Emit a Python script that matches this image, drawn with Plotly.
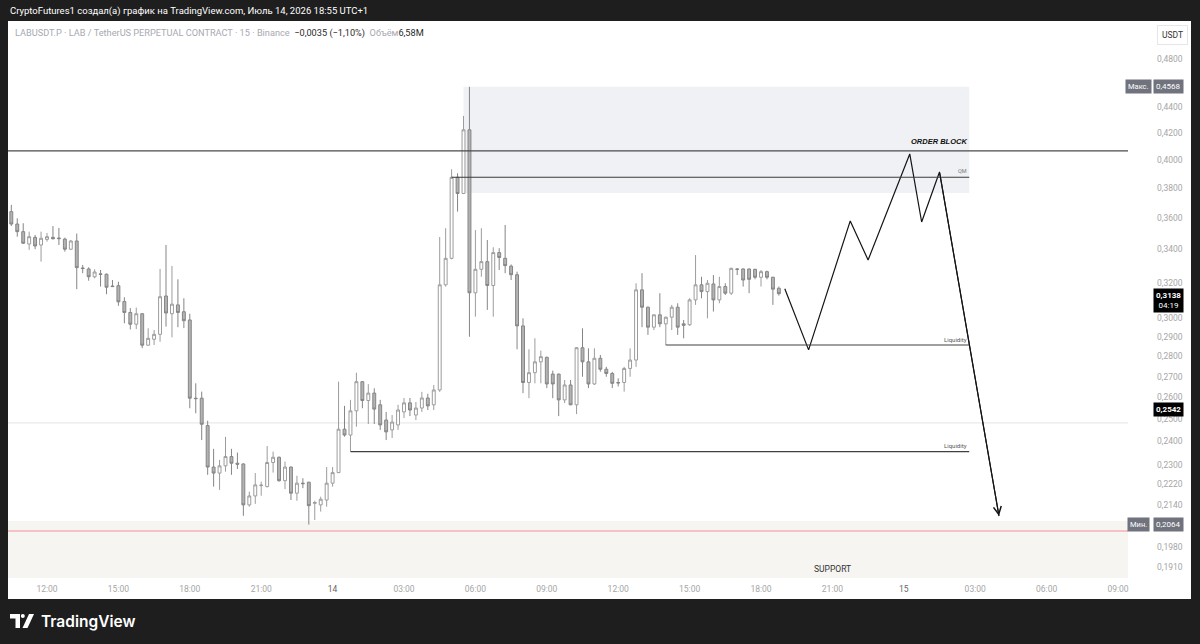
import math
import pandas as pd
import plotly.graph_objects as go

# ---------------- data ----------------
start_time = "2026-07-13 10:30"   # first 15-minute candle

opens = [0.3642, 0.3561, 0.3512, 0.3434, 0.3476, 0.3428, 0.3463, 0.3476, 0.3472, 0.3465,
         0.3402, 0.3453, 0.3288, 0.3282, 0.3236, 0.3253, 0.3251, 0.3182, 0.3184, 0.3094,
         0.3033, 0.2969, 0.3026, 0.2858, 0.2889, 0.2915, 0.3125, 0.3026, 0.3075, 0.3037,
         0.2992, 0.2596, 0.2596, 0.2470, 0.2291, 0.2266, 0.2296, 0.2335, 0.2307, 0.2304,
         0.2139, 0.2174, 0.2215, 0.2211, 0.2310, 0.2332, 0.2235, 0.2291, 0.2185, 0.2225,
         0.2229, 0.2145, 0.2139, 0.2158, 0.2225, 0.2268, 0.2454, 0.2428, 0.2537, 0.2675,
         0.2585, 0.2620, 0.2565, 0.2495, 0.2451, 0.2473, 0.2532, 0.2574, 0.2518, 0.2550,
         0.2597, 0.2565, 0.2635, 0.3189, 0.3346, 0.3876, 0.3764, 0.4225, 0.3143, 0.3280,
         0.3326, 0.3185, 0.3381, 0.3346, 0.3299, 0.3248, 0.2960, 0.2671, 0.2719, 0.2773,
         0.2796, 0.2712, 0.2712, 0.2588, 0.2659, 0.2565, 0.2845, 0.2773, 0.2664, 0.2791,
         0.2736, 0.2715, 0.2671, 0.2671, 0.2740, 0.2782, 0.3160, 0.3062, 0.2953, 0.3020,
         0.2971, 0.3007, 0.3062, 0.2971, 0.2966, 0.3103, 0.3189, 0.3150, 0.3194, 0.3103,
         0.3179, 0.3141, 0.3282, 0.3282, 0.3282, 0.3280, 0.3233, 0.3266, 0.3233, 0.3169]
highs = [0.3687, 0.3598, 0.3566, 0.3512, 0.3491, 0.3512, 0.3503, 0.3548, 0.3536, 0.3474,
         0.3459, 0.3500, 0.3306, 0.3292, 0.3280, 0.3276, 0.3255, 0.3217, 0.3207, 0.3118,
         0.3057, 0.3060, 0.3030, 0.2947, 0.2938, 0.3282, 0.3428, 0.3300, 0.3221, 0.3112,
         0.3026, 0.2667, 0.2627, 0.2492, 0.2368, 0.2321, 0.2420, 0.2368, 0.2352, 0.2306,
         0.2191, 0.2266, 0.2231, 0.2380, 0.2356, 0.2335, 0.2314, 0.2293, 0.2255, 0.2245,
         0.2230, 0.2155, 0.2171, 0.2291, 0.2291, 0.2675, 0.2560, 0.2588, 0.2719, 0.2678,
         0.2663, 0.2643, 0.2588, 0.2532, 0.2518, 0.2565, 0.2597, 0.2597, 0.2578, 0.2626,
         0.2617, 0.2659, 0.3478, 0.3534, 0.3933, 0.3905, 0.4333, 0.4568, 0.3522, 0.3534,
         0.3459, 0.3414, 0.3408, 0.3555, 0.3309, 0.3266, 0.3001, 0.2837, 0.2894, 0.2830,
         0.2799, 0.2729, 0.2714, 0.2683, 0.2683, 0.2848, 0.2947, 0.2842, 0.2842, 0.2808,
         0.2748, 0.2723, 0.2691, 0.2748, 0.2842, 0.3198, 0.3257, 0.3065, 0.3022, 0.3141,
         0.3010, 0.3075, 0.3084, 0.2992, 0.3112, 0.3366, 0.3236, 0.3217, 0.3246, 0.3236,
         0.3198, 0.3289, 0.3286, 0.3286, 0.3285, 0.3283, 0.3276, 0.3272, 0.3236, 0.3179]
lows = [0.3548, 0.3480, 0.3434, 0.3398, 0.3402, 0.3326, 0.3449, 0.3463, 0.3428, 0.3387,
        0.3398, 0.3164, 0.3257, 0.3213, 0.3227, 0.3179, 0.3135, 0.3176, 0.3070, 0.2974,
        0.2941, 0.2943, 0.2843, 0.2855, 0.2859, 0.2876, 0.2956, 0.2899, 0.2953, 0.2948,
        0.2549, 0.2526, 0.2406, 0.2259, 0.2211, 0.2198, 0.2272, 0.2259, 0.2283, 0.2097,
        0.2132, 0.2143, 0.2175, 0.2208, 0.2268, 0.2231, 0.2201, 0.2158, 0.2155, 0.2205,
        0.2064, 0.2081, 0.2113, 0.2132, 0.2211, 0.2266, 0.2421, 0.2356, 0.2465, 0.2549,
        0.2477, 0.2477, 0.2451, 0.2406, 0.2415, 0.2451, 0.2504, 0.2513, 0.2495, 0.2532,
        0.2541, 0.2541, 0.2626, 0.3179, 0.3340, 0.3642, 0.3760, 0.2902, 0.3010, 0.3236,
        0.3047, 0.3010, 0.3276, 0.3257, 0.3217, 0.2837, 0.2620, 0.2596, 0.2667, 0.2667,
        0.2644, 0.2596, 0.2513, 0.2573, 0.2563, 0.2522, 0.2699, 0.2644, 0.2659, 0.2724,
        0.2699, 0.2644, 0.2652, 0.2627, 0.2699, 0.2748, 0.2953, 0.2912, 0.2938, 0.2953,
        0.2859, 0.2938, 0.2912, 0.2894, 0.2960, 0.3075, 0.3112, 0.3001, 0.3038, 0.3084,
        0.3131, 0.3131, 0.3246, 0.3179, 0.3141, 0.3221, 0.3179, 0.3221, 0.3075, 0.3127]
closes = [0.3561, 0.3512, 0.3439, 0.3480, 0.3422, 0.3470, 0.3480, 0.3467, 0.3468, 0.3402,
          0.3453, 0.3290, 0.3285, 0.3236, 0.3264, 0.3250, 0.3175, 0.3179, 0.3092, 0.3033,
          0.2969, 0.3026, 0.2858, 0.2894, 0.2915, 0.3121, 0.3030, 0.3079, 0.3033, 0.2988,
          0.2596, 0.2594, 0.2476, 0.2291, 0.2266, 0.2296, 0.2335, 0.2307, 0.2303, 0.2139,
          0.2174, 0.2218, 0.2217, 0.2310, 0.2332, 0.2235, 0.2291, 0.2185, 0.2225, 0.2223,
          0.2136, 0.2148, 0.2161, 0.2225, 0.2268, 0.2454, 0.2428, 0.2537, 0.2675, 0.2585,
          0.2620, 0.2545, 0.2473, 0.2442, 0.2486, 0.2541, 0.2574, 0.2541, 0.2550, 0.2597,
          0.2560, 0.2635, 0.3189, 0.3346, 0.3876, 0.3764, 0.4225, 0.3143, 0.3280, 0.3326,
          0.3185, 0.3381, 0.3351, 0.3302, 0.3248, 0.2960, 0.2671, 0.2719, 0.2773, 0.2799,
          0.2664, 0.2664, 0.2588, 0.2659, 0.2565, 0.2845, 0.2773, 0.2664, 0.2791, 0.2736,
          0.2715, 0.2667, 0.2669, 0.2740, 0.2782, 0.3160, 0.3062, 0.2953, 0.3020, 0.2971,
          0.3007, 0.3062, 0.2953, 0.2963, 0.3103, 0.3189, 0.3150, 0.3198, 0.3103, 0.3179,
          0.3141, 0.3286, 0.3280, 0.3217, 0.3221, 0.3233, 0.3266, 0.3233, 0.3164, 0.3138]

# hand-drawn forecast path
path_times = ["2026-07-14 19:00", "2026-07-14 20:00", "2026-07-14 21:45", "2026-07-14 22:30",
              "2026-07-15 00:15", "2026-07-15 00:45", "2026-07-15 01:30", "2026-07-15 04:00"]
path_prices = [0.3166, 0.2834, 0.3581, 0.3336, 0.4044, 0.3574, 0.3914, 0.2096]

# drawn levels / zones
order_block_level = 0.4067
order_block_top = 0.4568
order_block_bottom = 0.3767
order_block_start = "2026-07-14 05:30"
qm_level = 0.3876
qm_start = "2026-07-14 05:00"
liquidity_levels = [0.2859, 0.2356]
liquidity_starts = ["2026-07-14 14:00", "2026-07-14 00:45"]
zone_end = "2026-07-15 02:45"
faint_level = 0.2482
red_level = 0.2040
support_top = 0.2077
support_label_time = "2026-07-14 21:00"
support_label_price = 0.1904

max_price = 0.4568
min_price = 0.2064
last_price = 0.3138
countdown = "04:19"
marker_price = 0.2542

y_ticks = [0.48, 0.44, 0.42, 0.40, 0.38, 0.36, 0.34, 0.32, 0.30, 0.29, 0.28, 0.27,
           0.26, 0.25, 0.24, 0.23, 0.222, 0.214, 0.198, 0.191]
y_ticktext = [f"{v:.4f}".replace(".", ",") for v in y_ticks]

x_tickvals = ["2026-07-13 12:00", "2026-07-13 15:00", "2026-07-13 18:00", "2026-07-13 21:00",
              "2026-07-14 00:00", "2026-07-14 03:00", "2026-07-14 06:00", "2026-07-14 09:00",
              "2026-07-14 12:00", "2026-07-14 15:00", "2026-07-14 18:00", "2026-07-14 21:00",
              "2026-07-15 00:00", "2026-07-15 03:00", "2026-07-15 06:00", "2026-07-15 09:00"]
x_ticktext = ["12:00", "15:00", "18:00", "21:00", '<span style="color:#666">14</span>',
              "03:00", "06:00", "09:00", "12:00", "15:00", "18:00", "21:00",
              '<span style="color:#666">15</span>', "03:00", "06:00", "09:00"]

x_range = ["2026-07-13 10:21:40", "2026-07-15 09:25:12"]
y_range = [0.18732, 0.5138]

# ---------------- figure ----------------
W, H = 1200, 644
ML, MR, MT, MB = 8, 72, 22, 66
PW, PH = W - ML - MR, H - MT - MB


def px(X):
    return (X - ML) / PW


def py(Y):
    return (H - MB - Y) / PH


FONT = "Roboto, 'Noto Sans', sans-serif"
times = pd.date_range(start_time, periods=len(opens), freq="15min")

fig = go.Figure()
fig.add_trace(go.Candlestick(
    x=times, open=opens, high=highs, low=lows, close=closes,
    increasing=dict(line=dict(color="#9c9c9c", width=1), fillcolor="#ffffff"),
    decreasing=dict(line=dict(color="#858585", width=1), fillcolor="#b3b3b3"),
    whiskerwidth=0, showlegend=False, hoverinfo="skip"))
fig.add_trace(go.Scatter(
    x=path_times, y=path_prices, mode="lines",
    line=dict(color="#141414", width=1.2), showlegend=False, hoverinfo="skip"))

shapes = [
    # white chart panel
    dict(type="rect", xref="paper", yref="paper", x0=px(8), x1=px(1191), y0=py(599), y1=py(21),
         fillcolor="#ffffff", line=dict(width=0), layer="below"),
    # support zone
    dict(type="rect", xref="paper", yref="y", x0=0, x1=1, y0=y_range[0], y1=support_top,
         fillcolor="#f6f5f2", line=dict(width=0), layer="below"),
    # order block zone
    dict(type="rect", xref="x", yref="y", x0=order_block_start, x1=zone_end,
         y0=order_block_bottom, y1=order_block_top,
         fillcolor="#f0f1f4", line=dict(width=0), layer="below"),
    # faint level
    dict(type="line", xref="paper", yref="y", x0=0, x1=1, y0=faint_level, y1=faint_level,
         line=dict(color="#e4e4e4", width=1), layer="below"),
    # red min line
    dict(type="line", xref="paper", yref="y", x0=0, x1=1, y0=red_level, y1=red_level,
         line=dict(color="#ef8f98", width=1)),
    # order block line
    dict(type="line", xref="paper", yref="y", x0=0, x1=1, y0=order_block_level, y1=order_block_level,
         line=dict(color="#4a4a4a", width=1.3)),
    # QM line
    dict(type="line", xref="x", yref="y", x0=qm_start, x1=zone_end, y0=qm_level, y1=qm_level,
         line=dict(color="#3a3a3a", width=1.1)),
]
for lv, st in zip(liquidity_levels, liquidity_starts):
    shapes.append(dict(type="line", xref="x", yref="y", x0=st, x1=zone_end, y0=lv, y1=lv,
                       line=dict(color="#404040", width=1.1)))

# TradingView logo (bottom left)
shapes += [
    dict(type="path", xref="paper", yref="paper",
         path=f"M{px(10)},{py(614)} L{px(20)},{py(614)} L{px(20)},{py(628)} L{px(15.5)},{py(628)} "
              f"L{px(15.5)},{py(618.5)} L{px(10)},{py(618.5)} Z",
         fillcolor="#ffffff", line=dict(width=0)),
    dict(type="circle", xref="paper", yref="paper", x0=px(20.8), x1=px(24.8), y0=py(614), y1=py(618),
         fillcolor="#ffffff", line=dict(width=0)),
    dict(type="path", xref="paper", yref="paper",
         path=f"M{px(22.5)},{py(628)} L{px(27.5)},{py(628)} L{px(34)},{py(614)} L{px(29)},{py(614)} Z",
         fillcolor="#ffffff", line=dict(width=0)),
]

L10 = math.log10
annotations = [
    dict(xref="paper", yref="paper", x=px(8), y=py(11), xanchor="left", yanchor="middle",
         text="CryptoFutures1 создал(а) график на TradingView.com, Июль 14, 2026 18:55 UTC+1",
         showarrow=False, font=dict(color="#ffffff", size=9.5, family=FONT)),
    dict(xref="paper", yref="paper", x=px(13), y=py(33), xanchor="left", yanchor="middle",
         text='<span style="color:#a7a9b1">LABUSDT.P · LAB / TetherUS PERPETUAL CONTRACT · 15 · Binance</span>'
              '\u00a0\u00a0<span style="color:#2a2a2a">−0,0035 (−1,10%)</span>'
              '\u00a0\u00a0<span style="color:#a7a9b1">Объём</span><span style="color:#2a2a2a">6,58M</span>',
         showarrow=False, font=dict(size=9.2, family=FONT)),
    dict(xref="paper", yref="paper", x=px(39), y=py(621), xanchor="left", yanchor="middle",
         text="TradingView", showarrow=False,
         font=dict(color="#ffffff", size=15.5, family="Inter, Roboto, sans-serif", weight=600)),
    # zone labels
    dict(xref="x", yref="y", x=zone_end, y=L10(0.4136), xanchor="right", yanchor="middle",
         text="ORDER BLOCK", showarrow=False,
         font=dict(color="#111111", size=7.5, family="'Liberation Sans', Arial, sans-serif",
                   weight="bold", style="italic")),
    dict(xref="x", yref="y", x=zone_end, y=L10(0.3920), xanchor="right", yanchor="middle",
         text="QM", showarrow=False, font=dict(color="#777777", size=5.5, family=FONT)),
    dict(xref="x", yref="y", x=support_label_time, y=L10(support_label_price), xanchor="center",
         yanchor="middle", text="SUPPORT", showarrow=False,
         font=dict(color="#333333", size=8.5, family=FONT)),
    # forecast arrow head
    dict(xref="x", yref="y", axref="x", ayref="y", x=path_times[-1], y=L10(path_prices[-1]),
         ax=path_times[-2], ay=L10(path_prices[-2]), text="", showarrow=True,
         arrowhead=5, arrowsize=1.4, arrowwidth=1.1, arrowcolor="#141414", standoff=0),
    # price-scale labels
    dict(xref="paper", yref="paper", x=px(1172), y=py(35), xanchor="center", yanchor="middle",
         text="USDT", showarrow=False, bgcolor="#ffffff", bordercolor="#e6e6e6", borderwidth=1,
         borderpad=4, font=dict(color="#333333", size=8.5, family=FONT)),
    dict(xref="paper", yref="y", x=px(1138), y=L10(max_price), xanchor="center", yanchor="middle",
         text="Макс.", showarrow=False, bgcolor="#70737d", borderpad=2,
         font=dict(color="#ffffff", size=7.5, family=FONT)),
    dict(xref="paper", yref="y", x=px(1168), y=L10(max_price), xanchor="center", yanchor="middle",
         text=f"{max_price:.4f}".replace(".", ","), showarrow=False, bgcolor="#70737d", borderpad=2,
         font=dict(color="#ffffff", size=8, family=FONT)),
    dict(xref="paper", yref="y", x=px(1138), y=L10(min_price), xanchor="center", yanchor="middle",
         text="Мин.", showarrow=False, bgcolor="#70737d", borderpad=2,
         font=dict(color="#ffffff", size=7.5, family=FONT)),
    dict(xref="paper", yref="y", x=px(1168), y=L10(min_price), xanchor="center", yanchor="middle",
         text=f"{min_price:.4f}".replace(".", ","), showarrow=False, bgcolor="#70737d", borderpad=2,
         font=dict(color="#ffffff", size=8, family=FONT)),
    dict(xref="paper", yref="y", x=px(1168), y=L10(last_price), xanchor="center", yanchor="top",
         yshift=6, text=f"<b>{last_price:.4f}</b>".replace(".", ",") + f"<br>{countdown}",
         showarrow=False, bgcolor="#000000", borderpad=2,
         font=dict(color="#ffffff", size=8, family=FONT)),
    dict(xref="paper", yref="y", x=px(1168), y=L10(marker_price), xanchor="center", yanchor="middle",
         text=f"<b>{marker_price:.4f}</b>".replace(".", ","), showarrow=False, bgcolor="#000000",
         borderpad=2, font=dict(color="#ffffff", size=8, family=FONT)),
]
for lv in liquidity_levels:
    annotations.append(dict(xref="x", yref="y", x=zone_end, y=L10(lv), yshift=6, xanchor="right",
                            yanchor="middle", text="Liquidity", showarrow=False,
                            font=dict(color="#555555", size=6, family=FONT)))

fig.update_layout(
    width=W, height=H,
    margin=dict(l=ML, r=MR, t=MT, b=MB, pad=0),
    paper_bgcolor="#1e1e1e", plot_bgcolor="#ffffff",
    showlegend=False, hovermode=False,
    shapes=shapes, annotations=annotations,
    xaxis=dict(type="date", range=x_range, tickmode="array", tickvals=x_tickvals,
               ticktext=x_ticktext, showgrid=False, zeroline=False, showline=False,
               ticks="", ticklabelstandoff=4, rangeslider=dict(visible=False),
               tickfont=dict(size=8.5, color="#a6a6a6", family=FONT), fixedrange=True),
    yaxis=dict(type="log", range=[math.log10(y_range[0]), math.log10(y_range[1])], side="right",
               tickmode="array", tickvals=y_ticks, ticktext=y_ticktext, showgrid=False,
               zeroline=False, showline=False, ticks="", ticklabelstandoff=28,
               tickfont=dict(size=8.5, color="#a6a6a6", family=FONT), fixedrange=True),
)

fig.write_html("out.html", config={"displayModeBar": False})
